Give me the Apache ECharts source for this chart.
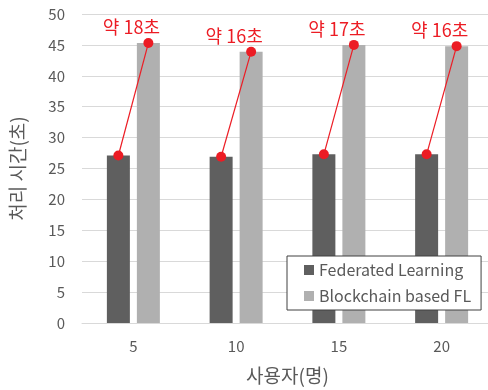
<!DOCTYPE html>
<html><head><meta charset="utf-8">
<script src="https://cdn.jsdelivr.net/npm/echarts@6/dist/echarts.min.js"></script>
<style>html,body{margin:0;padding:0;background:#fff;overflow:hidden}#c{width:496px;height:390px}</style>
</head><body><div id="c"></div>
<script>
const categories = ['5', '10', '15', '20'];
const federated = [27.1, 26.9, 27.3, 27.3];
const blockchain = [45.3, 43.9, 45.0, 44.8];
const diffLabels = ['약 18초', '약 16초', '약 17초', '약 16초'];
const yTicks = {min: 0, max: 50, interval: 5};

const FONT = '"Noto Sans CJK KR", "Noto Sans", sans-serif';
const RED = '#ec1c24';
const chart = echarts.init(document.getElementById('c'));
const barW = 23, barGapPx = 7;
const off = (barW + barGapPx) / 2;

chart.setOption({
  animation: false,
  textStyle: {fontFamily: FONT},
  grid: {left: 81, top: 14, right: 3, bottom: 66, containLabel: false},
  legend: {
    orient: 'vertical', left: 287, top: 256,
    data: ['Federated Learning', 'Blockchain based FL'],
    icon: 'rect', itemWidth: 10, itemHeight: 10, itemGap: 10,
    padding: [6, 10, 6, 17],
    borderColor: '#404040', borderWidth: 1, backgroundColor: '#fff',
    textStyle: {color: '#595959', fontSize: 16, fontFamily: FONT}
  },
  xAxis: {
    type: 'category', data: categories,
    name: '사용자(명)', nameLocation: 'middle', nameGap: 43,
    nameTextStyle: {color: '#595959', fontSize: 19, fontFamily: FONT},
    axisLine: {lineStyle: {color: '#d9d9d9', width: 1}},
    axisTick: {show: false},
    axisLabel: {color: '#595959', fontSize: 15, margin: 16, fontFamily: FONT}
  },
  yAxis: {
    type: 'value', min: yTicks.min, max: yTicks.max, interval: yTicks.interval,
    name: '처리 시간(초)', nameLocation: 'middle', nameGap: 55,
    nameTextStyle: {color: '#595959', fontSize: 19, fontFamily: FONT},
    axisLine: {show: false}, axisTick: {show: false},
    axisLabel: {color: '#595959', fontSize: 15, margin: 17, fontFamily: FONT},
    splitLine: {lineStyle: {color: '#d9d9d9', width: 1}}
  },
  series: [
    {name: 'Federated Learning', type: 'bar', data: federated, barWidth: barW, barGap: (barGapPx / barW * 100) + '%',
     itemStyle: {color: '#5f5f5f'}},
    {name: 'Blockchain based FL', type: 'bar', data: blockchain, barWidth: barW,
     itemStyle: {color: '#b0b0b0'}},
    {type: 'custom', clip: false, z: 10,
     data: categories.map((c, i) => [i, federated[i], blockchain[i]]),
     renderItem: function (params, api) {
       const i = api.value(0);
       const a = api.coord([i, api.value(1)]);
       const b = api.coord([i, api.value(2)]);
       const p1 = [a[0] - off, a[1]], p2 = [b[0] + off, b[1]];
       return {type: 'group', children: [
         {type: 'line', shape: {x1: p1[0], y1: p1[1], x2: p2[0], y2: p2[1]}, style: {stroke: RED, lineWidth: 1.2}},
         {type: 'circle', shape: {cx: p1[0], cy: p1[1], r: 5}, style: {fill: RED}},
         {type: 'circle', shape: {cx: p2[0], cy: p2[1], r: 5}, style: {fill: RED}},
         {type: 'text', x: a[0] - 2, y: b[1] - 16,
          style: {text: diffLabels[params.dataIndex], fill: RED, fontSize: 18, fontFamily: FONT, align: 'center', verticalAlign: 'middle'}}
       ]};
     }}
  ]
});
</script></body></html>
